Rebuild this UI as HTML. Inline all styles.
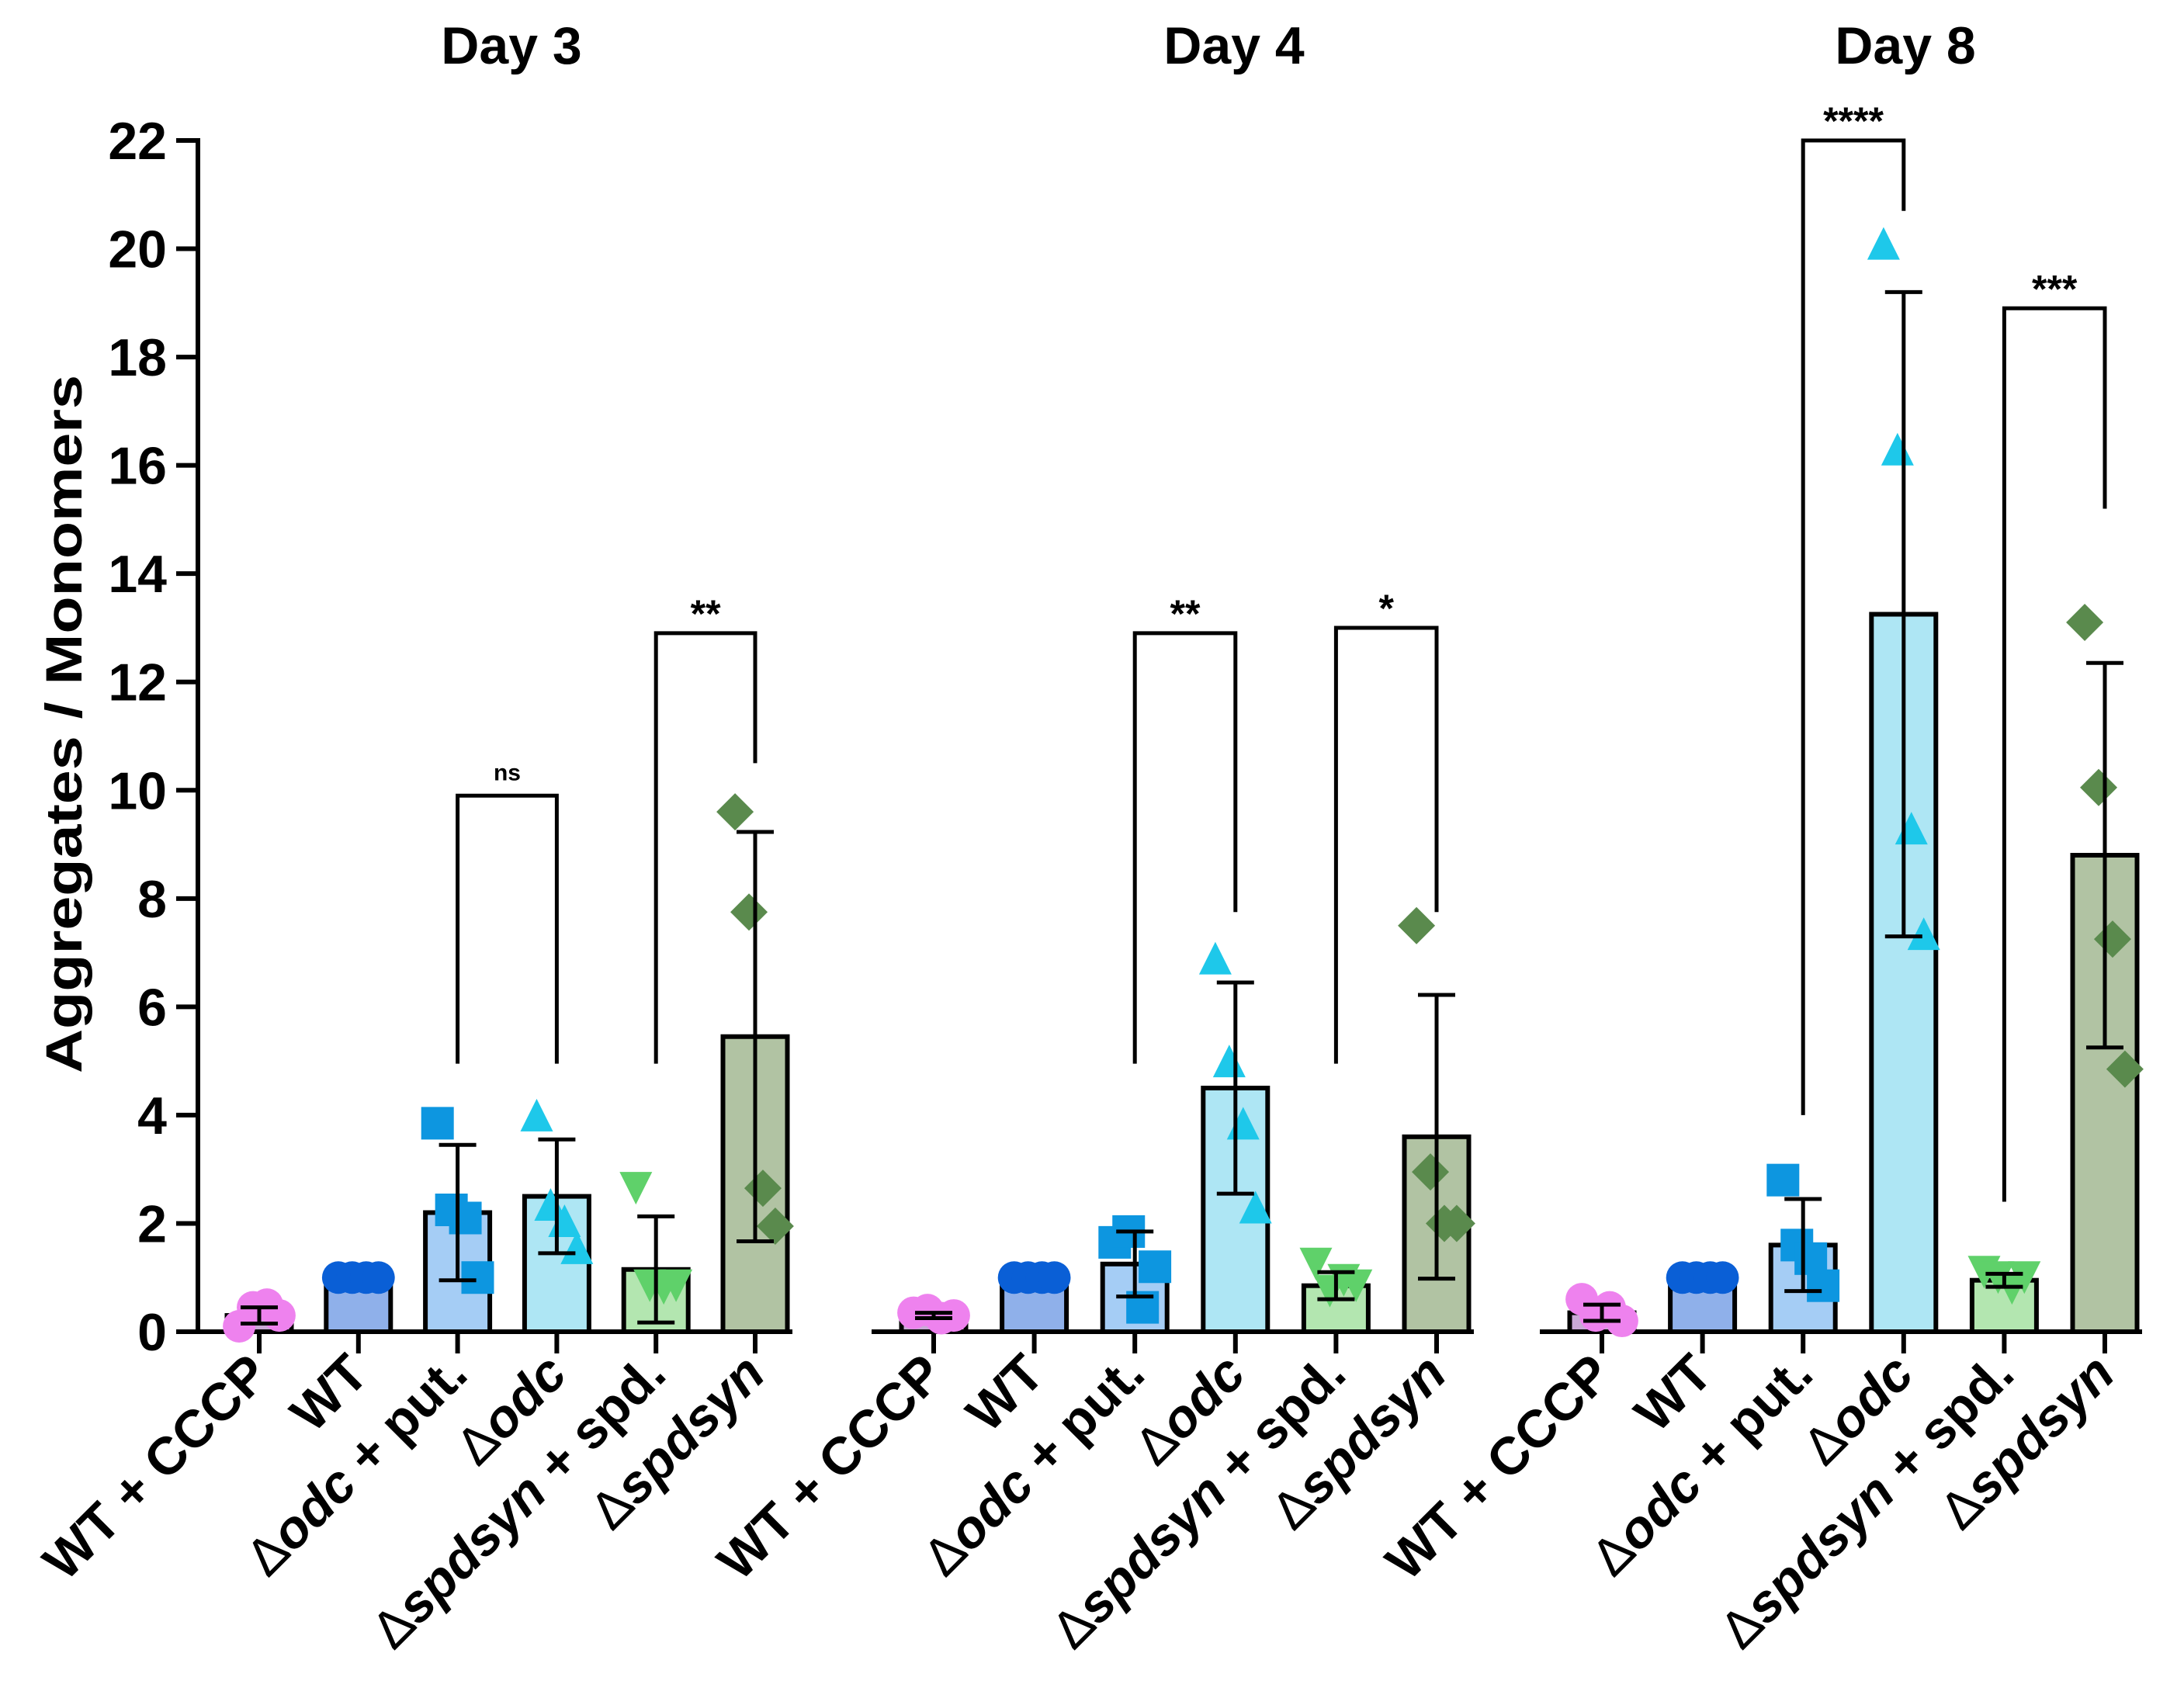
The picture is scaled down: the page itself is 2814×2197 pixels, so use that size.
<!DOCTYPE html>
<html><head><meta charset="utf-8"><style>
html,body{margin:0;padding:0;background:#fff;}
svg{display:block;font-family:"Liberation Sans",Arial,sans-serif;}
</style></head><body>
<svg id="chart" width="2814" height="2197" viewBox="0 0 2814 2197" xmlns="http://www.w3.org/2000/svg"></svg>
<script>
// ---- data ----
const days = ["Day 3","Day 4","Day 8"];
const groups = ["WT + CCCP","WT","odc+put","odc","spdsyn+spd","spdsyn"];
const yTicks = [0,2,4,6,8,10,12,14,16,18,20,22];
const means = [
  [0.3,1,2.2,2.5,1.15,5.45],
  [0.3,1,1.25,4.5,0.85,3.6],
  [0.35,1,1.6,13.25,0.95,8.8]
];
const errs = [
  [0.15,0,1.25,1.05,0.98,3.78],
  [0.05,0,0.6,1.95,0.25,2.62],
  [0.15,0,0.85,5.95,0.12,3.55]
];
const points = [
  [[0.1,0.45,0.5,0.3],[1,1,1,1],[3.85,2.25,2.1,1.0],[4.0,2.35,2.05,1.55],[2.65,0.85,0.8,0.85],[9.6,7.75,2.65,1.95]],
  [[0.35,0.4,0.25,0.3],[1,1,1,1],[1.65,1.85,0.45,1.2],[6.9,5.0,3.85,2.3],[1.25,0.75,0.95,0.85],[7.5,2.95,2.0,2.0]],
  [[0.6,0.3,0.45,0.2],[1,1,1,1],[2.8,1.6,1.35,0.85],[20.1,16.3,9.3,7.35],[1.1,1.0,0.8,1.0],[13.1,10.05,7.25,4.85]]
];
// brackets: [day, groupA, groupB, top, leftBottom, rightBottom, label]
const brackets = [
  [0,2,3,9.9,4.95,4.95,"ns"],
  [0,4,5,12.9,4.95,10.5,"**"],
  [1,2,3,12.9,4.95,7.75,"**"],
  [1,4,5,13.0,4.95,7.75,"*"],
  [2,2,3,22.0,4.0,20.7,"****"],
  [2,4,5,18.9,2.4,15.2,"***"]
];
// ---- layout/style ----
const NS="http://www.w3.org/2000/svg";
const svg=document.getElementById('chart');
const Y0=1716, Y22=181, AX=255;
const dayStart=[334,1203,2064], groupStep=[127.8,129.6,129.6];
const titleX=[659,1590,2455];
const BW=83;
const barFill=["#c9a9d6","#8fb0ea","#a5cdf5","#aee6f4","#b3e6b0","#b1c3a3"];
const ptFill=["#ee82ee","#0a5fd6","#0d96e0","#1ec8ea","#5fd16a","#5a8a4d"];
const jit=[-0.26,-0.08,0.1,0.26];
function y(v){return Y0-(v/22)*(Y0-Y22);}
function x(d,g){return dayStart[d]+g*groupStep[d];}
function el(tag,attrs,parent){const e=document.createElementNS(NS,tag);for(const k in attrs)e.setAttribute(k,attrs[k]);(parent||svg).appendChild(e);return e;}

// axes
const yAxis=el('line',{x1:AX,y1:Y22-3,x2:AX,y2:Y0,stroke:'#000','stroke-width':6});


yTicks.forEach(t=>{
  const tk=el('line',{x1:AX-28,y1:y(t),x2:AX,y2:y(t),stroke:'#000','stroke-width':6});
  
  
  const tl=el('text',{x:AX-40,y:y(t)+24,'text-anchor':'end','font-size':68,'font-weight':'bold'});
  tl.textContent=t;
  
  
});
const yt=el('text',{transform:'translate(105,933) rotate(-90)','text-anchor':'middle','font-size':66,'font-weight':'bold',textLength:900,lengthAdjust:'spacingAndGlyphs'});
yt.textContent='Aggregates / Monomers';



for(let d=0;d<3;d++){
  const xa=el('line',{x1:d===0?AX:x(d,0)-80,y1:Y0,x2:x(d,5)+48,y2:Y0,stroke:'#000','stroke-width':6});
  
  
  const dt=el('text',{x:titleX[d],y:82,'text-anchor':'middle','font-size':68,'font-weight':'bold'});
  dt.textContent=days[d];
  
  
  for(let g=0;g<6;g++){
    const cx=x(d,g), m=means[d][g], e=errs[d][g];
    const bar=el('rect',{x:cx-BW/2,y:y(m),width:BW,height:Y0-y(m),fill:barFill[g],stroke:'#000','stroke-width':6});
    
    
    const tk=el('line',{x1:cx,y1:Y0,x2:cx,y2:Y0+28,stroke:'#000','stroke-width':6});
    
    
    points[d][g].forEach((v,i)=>{
      const px=cx+jit[i]*BW*1.2, py=y(v), s=21;
      let p;
      if(g===0||g===1){p=el('circle',{cx:px,cy:py,r:s,fill:ptFill[g]});}
      else if(g===2){p=el('rect',{x:px-s,y:py-s,width:2*s,height:2*s,fill:ptFill[g]});}
      else if(g===3){p=el('polygon',{points:`${px},${py-s} ${px+s},${py+s} ${px-s},${py+s}`,fill:ptFill[g]});}
      else if(g===4){p=el('polygon',{points:`${px-s},${py-s} ${px+s},${py-s} ${px},${py+s}`,fill:ptFill[g]});}
      else {p=el('polygon',{points:`${px},${py-s-3} ${px+s+3},${py} ${px},${py+s+3} ${px-s-3},${py}`,fill:ptFill[g]});}
      
      
    });
    if(e>0){
      const eg=el('g',{stroke:'#000','stroke-width':5});
      
      
      el('line',{x1:cx,y1:y(m+e),x2:cx,y2:y(Math.max(0,m-e))},eg);
      el('line',{x1:cx-24,y1:y(m+e),x2:cx+24,y2:y(m+e)},eg);
      el('line',{x1:cx-24,y1:y(Math.max(0,m-e)),x2:cx+24,y2:y(Math.max(0,m-e))},eg);
    }
  }
}
const labelParts=[
  [["WT + CCCP","n"]],
  [["WT","n"]],
  [["\u0394","n"],["odc","i"],[" + put.","n"]],
  [["\u0394","n"],["odc","i"]],
  [["\u0394","n"],["spdsyn","i"],[" + spd.","n"]],
  [["\u0394","n"],["spdsyn","i"]]
];
for(let d=0;d<3;d++)for(let g=0;g<6;g++){
  const cx=x(d,g)+16;
  const t=el('text',{transform:`translate(${cx},${Y0+58}) rotate(-45)`,'text-anchor':'end','font-size':68,'font-weight':'bold'});
  
  
  labelParts[g].forEach(([s,st])=>{
    const ts=el('tspan',{},t);
    if(st==='i')ts.setAttribute('font-style','italic');
    if(s==="\u0394"){ts.setAttribute('font-weight','normal');}
    ts.textContent=s;
  });
}
brackets.forEach(([d,a,b,top,lb,rb,lab])=>{
  const xa=x(d,a), xb=x(d,b);
  const br=el('polyline',{points:`${xa},${y(lb)} ${xa},${y(top)} ${xb},${y(top)} ${xb},${y(rb)}`,fill:'none',stroke:'#000','stroke-width':5});
  
  
  const isNs=lab==='ns';
  const t=el('text',{x:(xa+xb)/2,y:y(top)-(isNs?20:8),'text-anchor':'middle','font-size':isNs?30:50,'font-weight':'bold'});
  t.textContent=lab;
  
  
});
</script>
</body></html>
